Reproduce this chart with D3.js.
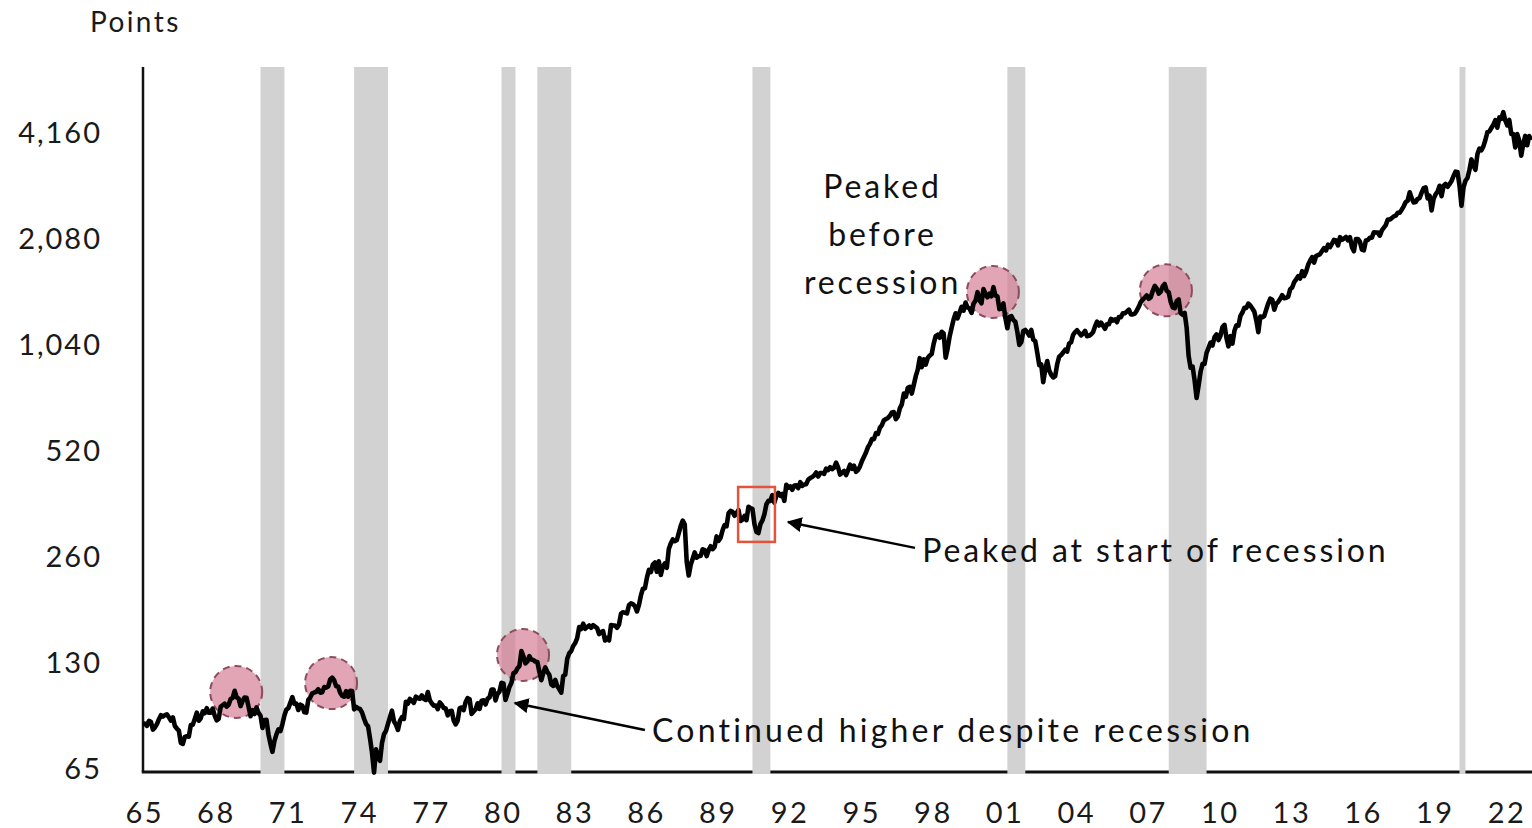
<!DOCTYPE html>
<html>
<head>
<meta charset="utf-8">
<script src="https://cdn.jsdelivr.net/npm/d3@7"></script>
<style>
  body { margin: 0; background: #fff; }
  svg { display: block; font-family: Lato, "Open Sans", sans-serif; }
  .tick text { fill: #1a1a1a; }
</style>
</head>
<body>
<svg id="chart" width="1532" height="828"></svg>
<script>
// S&P 500, month-end closes, starting Jan 1965
var startYear = 1965;
var spx1960s = [
  87.6, 87.4, 86.2, 89.1, 88.4, 84.1, 85.3, 87.2, 90.0, 92.4, 91.6, 92.4,
  92.9, 91.2, 89.2, 91.1, 86.1, 84.7, 83.6, 77.1, 76.6, 80.2, 80.5, 80.3,
  86.6, 86.8, 90.2, 94.0, 89.1, 90.6, 94.8, 93.6, 96.7, 93.9, 94.0, 96.5,
  92.2, 89.4, 90.2, 97.6, 98.7, 99.6, 97.7, 98.9, 102.7, 103.4, 108.4, 103.9,
  103.0, 98.1, 101.5, 103.7, 103.5, 97.7, 91.8, 95.5, 93.1, 97.2, 93.8, 92.1
];
var spx1970s = [
  85.0, 89.5, 89.6, 81.5, 76.6, 72.7, 78.1, 81.5, 84.2, 83.3, 87.2, 92.2,
  95.9, 96.8, 100.3, 104.0, 99.6, 99.7, 95.6, 99.0, 98.3, 94.2, 94.0, 102.1,
  103.9, 106.6, 107.2, 107.7, 109.5, 107.1, 107.4, 111.1, 110.6, 111.6, 116.7, 118.1,
  116.0, 111.7, 111.5, 107.0, 105.0, 104.3, 108.2, 104.3, 108.4, 108.3, 96.0, 97.6,
  96.6, 96.2, 94.0, 90.3, 87.3, 86.0, 79.3, 72.2, 63.5, 73.9, 70.0, 68.6,
  77.0, 81.6, 83.4, 87.3, 91.2, 95.2, 88.8, 86.9, 83.9, 89.0, 91.2, 90.2,
  100.9, 99.7, 102.8, 101.6, 100.2, 104.3, 103.4, 102.9, 105.2, 102.9, 102.1, 107.5,
  102.0, 99.8, 98.4, 98.4, 96.1, 100.5, 98.9, 96.8, 96.5, 92.3, 94.8, 95.1,
  89.3, 87.0, 89.2, 96.8, 97.2, 95.5, 100.7, 103.3, 102.5, 93.2, 94.7, 96.1,
  99.9, 96.3, 101.6, 101.8, 99.1, 102.9, 103.8, 109.3, 109.3, 101.8, 106.2, 107.9
];
var spx1980s = [
  114.2, 113.7, 102.1, 106.3, 111.2, 114.2, 121.7, 122.4, 125.5, 127.5, 140.5, 135.8,
  129.6, 131.3, 136.0, 132.8, 132.6, 131.2, 130.9, 122.8, 116.2, 121.9, 126.4, 122.6,
  120.4, 113.1, 112.0, 116.4, 111.9, 109.6, 107.1, 119.5, 120.4, 133.7, 138.5, 140.6,
  145.3, 148.1, 153.0, 164.4, 162.4, 168.1, 162.6, 164.4, 166.1, 163.6, 166.4, 164.9,
  163.4, 157.1, 159.2, 160.1, 150.6, 153.2, 150.7, 166.7, 166.1, 166.1, 163.6, 167.2,
  179.6, 181.2, 180.7, 179.8, 189.6, 191.9, 190.9, 188.6, 182.1, 189.8, 202.2, 211.3,
  211.8, 226.9, 238.9, 235.5, 247.4, 250.8, 236.1, 252.9, 231.3, 244.0, 249.2, 242.2,
  274.1, 284.2, 291.7, 288.4, 290.1, 304.0, 318.7, 329.8, 321.8, 251.8, 230.3, 247.1,
  257.1, 267.8, 258.9, 261.3, 262.2, 273.5, 272.0, 261.5, 271.9, 279.0, 273.7, 277.7,
  297.5, 288.9, 294.9, 309.6, 320.5, 318.0, 346.1, 351.5, 349.2, 340.4, 346.0, 353.4
];
var spx1990s = [
  329.1, 331.9, 339.9, 330.8, 361.2, 358.0, 356.2, 322.6, 306.1, 304.0, 322.2, 330.2,
  343.9, 367.1, 375.2, 375.3, 389.8, 371.2, 387.8, 395.4, 387.9, 392.5, 375.2, 417.1,
  408.8, 412.7, 403.7, 415.0, 415.4, 408.1, 424.2, 414.0, 417.8, 418.7, 431.4, 435.7,
  438.8, 443.4, 451.7, 440.2, 450.2, 450.5, 448.1, 463.6, 458.9, 467.8, 461.8, 466.5,
  481.6, 467.1, 445.8, 450.9, 456.5, 444.3, 458.3, 475.5, 462.7, 472.4, 453.7, 459.3,
  470.4, 487.4, 500.7, 514.7, 533.4, 544.8, 562.1, 561.9, 584.4, 581.5, 605.4, 615.9,
  636.0, 640.4, 645.5, 654.2, 669.1, 670.6, 640.0, 652.0, 687.3, 705.3, 757.0, 740.7,
  786.2, 790.8, 757.1, 801.3, 848.3, 885.1, 954.3, 899.5, 947.3, 914.6, 955.4, 970.4,
  980.3, 1049.3, 1101.8, 1111.8, 1090.8, 1133.8, 1120.7, 957.3, 1017.0, 1098.7, 1163.6, 1229.2,
  1279.6, 1238.3, 1286.4, 1335.2, 1301.8, 1372.7, 1328.7, 1320.4, 1282.7, 1362.9, 1388.9, 1469.3
];
var spx2000s = [
  1394.5, 1366.4, 1498.6, 1452.4, 1420.6, 1454.6, 1430.8, 1517.7, 1436.5, 1429.4, 1315.0, 1320.3,
  1366.0, 1239.9, 1160.3, 1249.5, 1255.8, 1224.4, 1211.2, 1133.6, 1040.9, 1059.8, 1139.5, 1148.1,
  1130.2, 1106.7, 1147.4, 1076.9, 1067.1, 989.8, 911.6, 916.1, 815.3, 885.8, 936.3, 879.8,
  855.7, 841.2, 848.2, 916.9, 963.6, 974.5, 990.3, 1008.0, 996.0, 1050.7, 1058.2, 1111.9,
  1131.1, 1144.9, 1126.2, 1107.3, 1120.7, 1140.8, 1101.7, 1104.2, 1114.6, 1130.2, 1173.8, 1211.9,
  1181.3, 1203.6, 1180.6, 1156.9, 1191.5, 1191.3, 1234.2, 1220.3, 1228.8, 1207.0, 1249.5, 1248.3,
  1280.1, 1280.7, 1294.9, 1310.6, 1270.1, 1270.2, 1276.7, 1303.8, 1335.9, 1377.9, 1400.6, 1418.3,
  1438.2, 1406.8, 1420.9, 1482.4, 1530.6, 1503.4, 1455.3, 1474.0, 1526.8, 1549.4, 1481.1, 1468.4,
  1378.6, 1330.6, 1322.7, 1385.6, 1400.4, 1280.0, 1267.4, 1282.8, 1166.4, 968.8, 896.2, 903.3,
  825.9, 735.1, 797.9, 872.8, 919.1, 919.3, 987.5, 1020.6, 1057.1, 1036.2, 1095.6, 1115.1
];
var spx2010s = [
  1073.9, 1104.5, 1169.4, 1186.7, 1089.4, 1030.7, 1101.6, 1049.3, 1141.2, 1183.3, 1180.6, 1257.6,
  1286.1, 1327.2, 1325.8, 1363.6, 1345.2, 1320.6, 1292.3, 1218.9, 1131.4, 1253.3, 1247.0, 1257.6,
  1312.4, 1365.7, 1408.5, 1397.9, 1310.3, 1362.2, 1379.3, 1406.6, 1440.7, 1412.2, 1416.2, 1426.2,
  1498.1, 1514.7, 1569.2, 1597.6, 1630.7, 1606.3, 1685.7, 1633.0, 1681.6, 1756.5, 1805.8, 1848.4,
  1782.6, 1859.5, 1872.3, 1884.0, 1923.6, 1960.2, 1930.7, 2003.4, 1972.3, 2018.1, 2067.6, 2058.9,
  1995.0, 2104.5, 2067.9, 2085.5, 2107.4, 2063.1, 2103.8, 1972.2, 1920.0, 2079.4, 2080.4, 2043.9,
  1940.2, 1932.2, 2059.7, 2065.3, 2097.0, 2098.9, 2173.6, 2171.0, 2168.3, 2126.2, 2198.8, 2238.8,
  2278.9, 2363.6, 2362.7, 2384.2, 2411.8, 2423.4, 2470.3, 2471.7, 2519.4, 2575.3, 2647.6, 2673.6,
  2823.8, 2713.8, 2640.9, 2648.1, 2705.3, 2718.4, 2816.3, 2901.5, 2914.0, 2711.7, 2760.2, 2506.9,
  2704.1, 2784.5, 2834.4, 2945.8, 2752.1, 2941.8, 2980.4, 2926.5, 2976.7, 3037.6, 3141.0, 3230.8
];
var spx2020s = [
  3225.5, 2954.2, 2584.6, 2912.4, 3044.3, 3100.3, 3271.1, 3500.3, 3363.0, 3270.0, 3621.6, 3756.1,
  3714.2, 3811.2, 3972.9, 4181.2, 4204.1, 4297.5, 4395.3, 4522.7, 4307.5, 4605.4, 4567.0, 4766.2,
  4515.6, 4373.9, 4530.4, 4131.9, 4132.2, 3785.4, 4130.3, 3955.0, 3585.6, 3872.0, 4080.1, 3839.5,
  4076.6, 3970.2
];

// NBER recessions, decimal years
var recStart = [1969.917, 1973.833, 1980.0, 1981.5, 1990.5, 2001.167, 2007.917, 2020.083];
var recEnd   = [1970.917, 1975.25, 1980.583, 1982.917, 1991.25, 2001.917, 2009.5, 2020.333];

// tick labels
var yTicks = [65, 130, 260, 520, 1040, 2080, 4160];
var xTicks = d3.range(1965, 2023, 3);

// highlighted peaks: [year, level]
var peakYears  = [1968.9, 1972.87, 1980.9, 2000.56, 2007.8];
var peakLevels = [107.6, 114, 137, 1471, 1487];

var svg = d3.select('#chart');

var x = d3.scaleLinear().domain([1965, 2023.125]).range([143, 143 + 58.125 * 23.9]);
var y = d3.scaleLog().domain([65, 4160]).range([769, 133]);

var series = [].concat(spx1960s, spx1970s, spx1980s, spx1990s, spx2000s, spx2010s, spx2020s)
  .map(function(v, i) { return {t: startYear + i / 12, v: v}; });

// axis lines
svg.append('line').attr('x1', 143).attr('x2', 143).attr('y1', 67).attr('y2', 772)
  .attr('stroke', '#111').attr('stroke-width', 2.5);
svg.append('line').attr('x1', 141.75).attr('x2', 1532).attr('y1', 772).attr('y2', 772)
  .attr('stroke', '#111').attr('stroke-width', 3);

// recession bands (drawn over the x axis like the original)
svg.append('g').selectAll('rect')
  .data(recStart)
  .enter().append('rect')
  .attr('x', function(d) { return x(d); })
  .attr('width', function(d, i) { return x(recEnd[i]) - x(d); })
  .attr('y', 67)
  .attr('height', 707)
  .attr('fill', '#d2d2d2');

// tick labels
var yAxis = d3.axisLeft(y).tickValues(yTicks).tickSize(0).tickPadding(41).tickFormat(d3.format(','));
var gy = svg.append('g').attr('transform', 'translate(143,0)').call(yAxis);
gy.select('.domain').remove();
gy.selectAll('text').attr('font-size', 29).attr('font-family', 'Lato, sans-serif')
  .attr('letter-spacing', 2);

var xAxis = d3.axisBottom(x).tickValues(xTicks).tickSize(0).tickPadding(30)
  .tickFormat(function(d) { return String(d % 100).padStart(2, '0'); });
var gx = svg.append('g').attr('transform', 'translate(0,772)').call(xAxis);
gx.select('.domain').remove();
gx.selectAll('text').attr('font-size', 29).attr('font-family', 'Lato, sans-serif')
  .attr('letter-spacing', 2.5).attr('dx', 1.2);

svg.append('text').attr('x', 90).attr('y', 32).text('Points')
  .attr('font-size', 28).attr('letter-spacing', 2.4).attr('fill', '#1a1a1a');

// pink peak circles
svg.append('g').selectAll('circle')
  .data(peakYears)
  .enter().append('circle')
  .attr('cx', function(d) { return x(d); })
  .attr('cy', function(d, i) { return y(peakLevels[i]); })
  .attr('r', 26)
  .attr('fill', 'rgba(212,122,146,0.68)')
  .attr('stroke', '#8c4d5e')
  .attr('stroke-width', 2)
  .attr('stroke-dasharray', '7,5');

// index line
var line = d3.line().x(function(d) { return x(d.t); }).y(function(d) { return y(d.v); });
svg.append('path').datum(series)
  .attr('d', line)
  .attr('fill', 'none')
  .attr('stroke', '#000')
  .attr('stroke-width', 4.6)
  .attr('stroke-linejoin', 'round');

// 1990 box
svg.append('rect')
  .attr('x', x(1989.9)).attr('y', y(411))
  .attr('width', x(1991.44) - x(1989.9)).attr('height', y(287) - y(411))
  .attr('fill', 'none').attr('stroke', '#e4533b').attr('stroke-width', 2.5);

// arrows
svg.append('defs').append('marker')
  .attr('id', 'head').attr('viewBox', '0 0 10 10').attr('refX', 9).attr('refY', 5)
  .attr('markerWidth', 6).attr('markerHeight', 6).attr('orient', 'auto')
  .attr('markerUnits', 'strokeWidth')
  .append('path').attr('d', 'M0,0L10,5L0,10z').attr('fill', '#000');

var arrows = [
  {from: [1997.3, 276], to: [1991.99, 327]},
  {from: [1986.0, 83.9], to: [1980.56, 100.1]}
];
svg.append('g').selectAll('line')
  .data(arrows)
  .enter().append('line')
  .attr('x1', function(d) { return x(d.from[0]); })
  .attr('y1', function(d) { return y(d.from[1]); })
  .attr('x2', function(d) { return x(d.to[0]); })
  .attr('y2', function(d) { return y(d.to[1]); })
  .attr('stroke', '#000').attr('stroke-width', 2.5)
  .attr('marker-end', 'url(#head)');

// annotations
svg.append('text').attr('x', x(1997.6)).attr('y', y(270)).attr('dy', '0.35em')
  .attr('font-size', 32).attr('letter-spacing', 2.9).attr('fill', '#111')
  .text('Peaked at start of recession');
svg.append('text').attr('x', x(1986.3)).attr('y', y(83.3)).attr('dy', '0.35em')
  .attr('font-size', 32).attr('letter-spacing', 3.2).attr('fill', '#111')
  .text('Continued higher despite recession');

var before = svg.append('text').attr('x', x(1995.88)).attr('y', y(2922))
  .attr('text-anchor', 'middle').attr('font-size', 32).attr('letter-spacing', 2.9)
  .attr('fill', '#111');
['Peaked', 'before', 'recession'].forEach(function(s, i) {
  before.append('tspan').attr('x', x(1995.88) + 1.5).attr('dy', i === 0 ? '0.35em' : 48).text(s);
});
</script>
</body>
</html>
